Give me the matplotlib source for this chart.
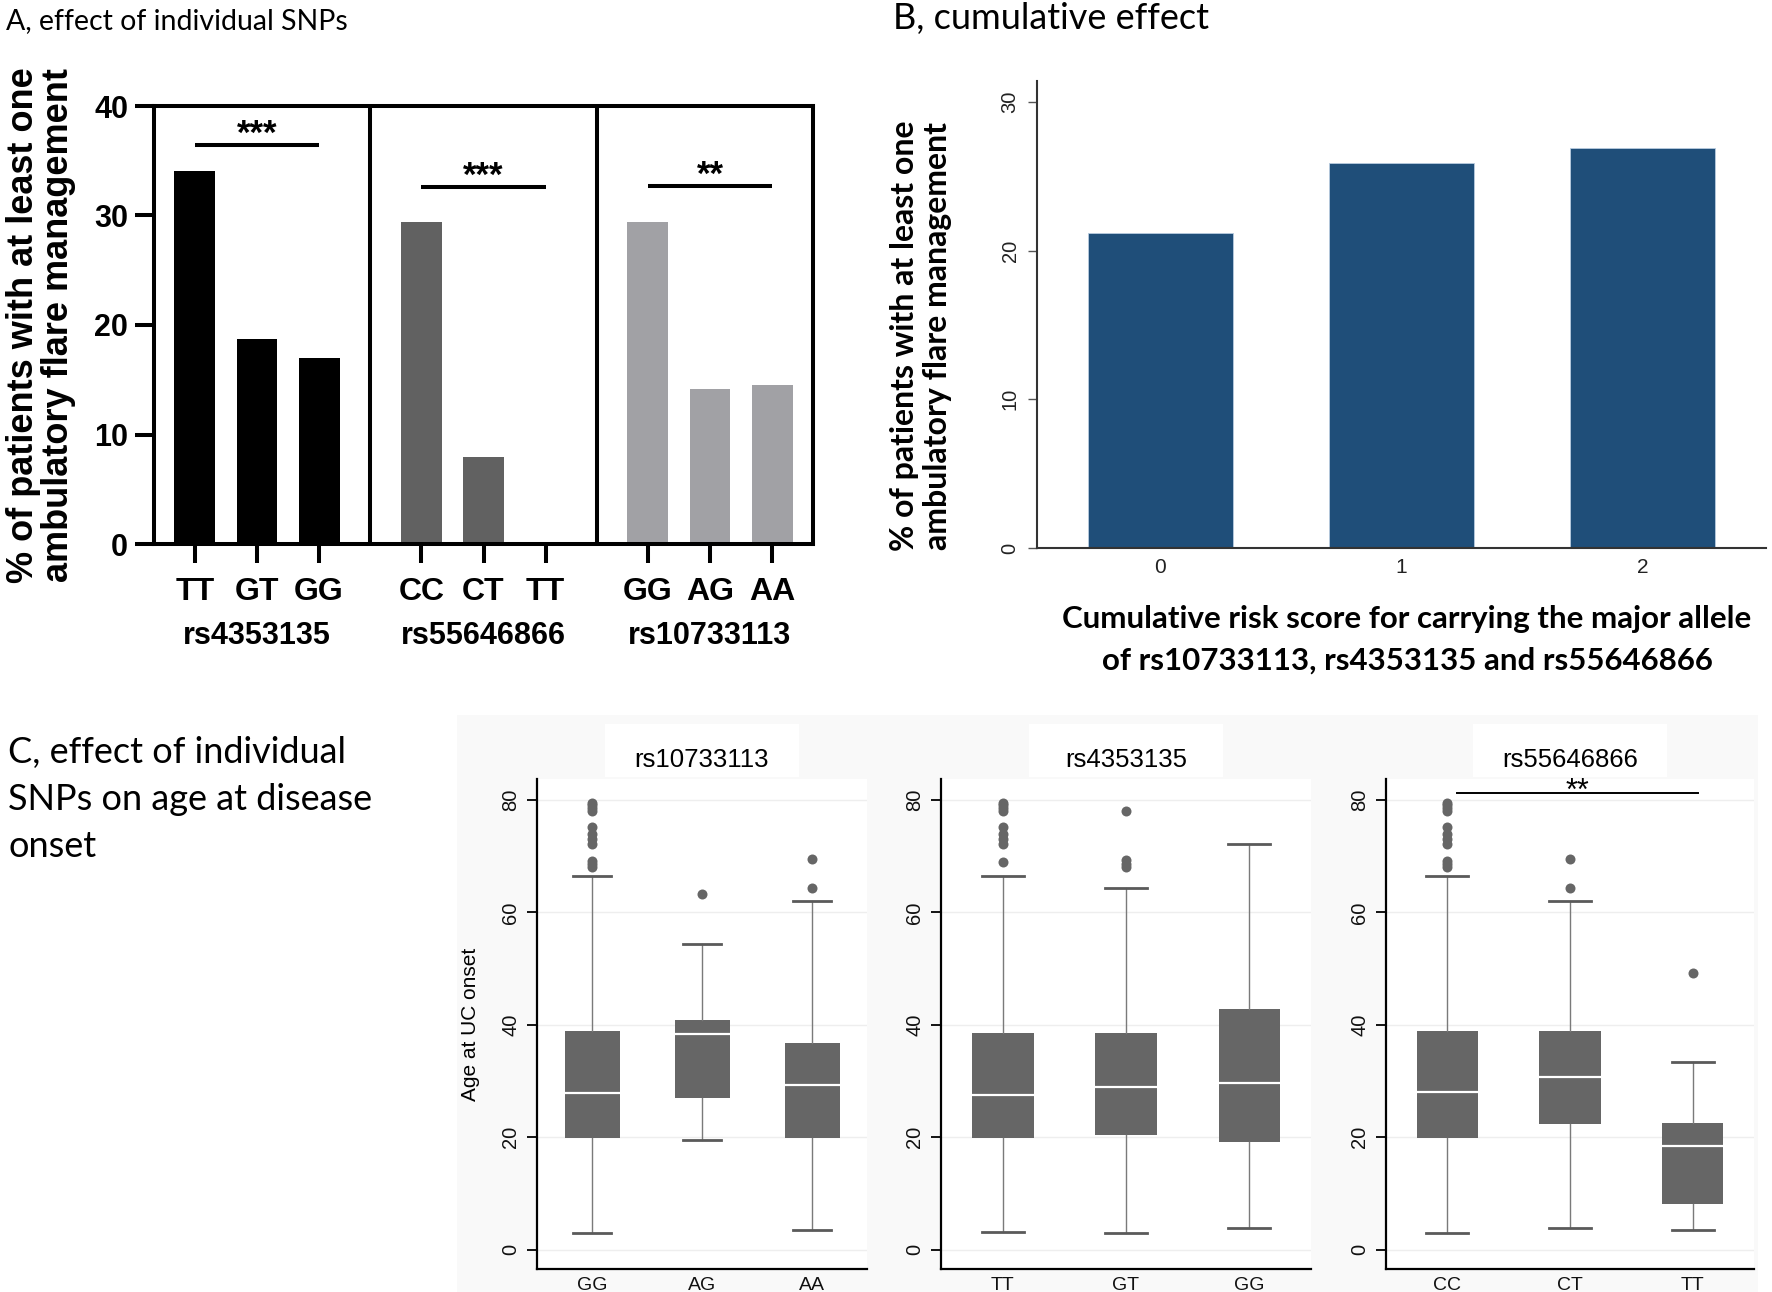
import matplotlib
matplotlib.use('Agg')
import matplotlib.pyplot as plt
from matplotlib.patches import Rectangle
from matplotlib.transforms import blended_transform_factory

plt.rcParams['font.family'] = ['Liberation Sans', 'DejaVu Sans']

W, H = 1772, 1292
DPI = 100

# ---------------- Data ----------------
# Panel A: % of patients with at least one ambulatory flare management
snp_groups_A = ['rs4353135', 'rs55646866', 'rs10733113']
genotypes_A = [['TT', 'GT', 'GG'], ['CC', 'CT', 'TT'], ['GG', 'AG', 'AA']]
pct_rs4353135 = [34.1, 18.7, 17.0]
pct_rs55646866 = [29.4, 7.9, 0.0]
pct_rs10733113 = [29.4, 14.2, 14.5]
sig_labels_A = ['***', '***', '**']
sig_heights_A = [36.4, 32.6, 32.7]
colors_A = ['#000000', '#616161', '#a1a1a5']

# Panel B: cumulative risk score
risk_scores = [0, 1, 2]
pct_B = [21.2, 25.9, 26.9]

# Panel C: age at UC onset (box summaries)
facets_C = ['rs10733113', 'rs4353135', 'rs55646866']
genotypes_C = [['GG', 'AG', 'AA'], ['TT', 'GT', 'GG'], ['CC', 'CT', 'TT']]
q1_C = [[19.8, 27.0, 19.8], [19.8, 20.4, 19.2], [19.8, 22.3, 8.2]]
med_C = [[27.8, 38.4, 29.3], [27.6, 28.9, 29.6], [28.1, 30.7, 18.5]]
q3_C = [[38.9, 40.9, 36.8], [38.6, 38.6, 42.8], [38.9, 38.9, 22.5]]
whislo_C = [[3.0, 19.6, 3.6], [3.2, 3.0, 3.9], [3.0, 3.9, 3.6]]
whishi_C = [[66.4, 54.4, 62.0], [66.4, 64.4, 72.2], [66.4, 62.0, 33.4]]
fliers_C = [
    [[68.0, 68.6, 69.2, 72.2, 73.0, 74.0, 75.1, 78.0, 78.5, 79.0, 79.5], [63.3], [64.4, 69.4]],
    [[69.0, 72.2, 73.0, 74.0, 75.1, 78.0, 78.5, 79.0, 79.5], [68.0, 68.6, 69.3, 78.0], []],
    [[68.0, 68.6, 69.2, 72.2, 73.0, 74.0, 75.1, 78.0, 78.5, 79.0, 79.5], [64.4, 69.4], [49.3]],
]
sig_C_label = '**'
sig_C_height = 81.2


# ---------------- helpers ----------------
def fx(px):
    return px / W


def fy(py):
    return 1 - py / H


def rect(l, r, t, b):
    return [fx(l), fy(b), (r - l) / W, (b - t) / H]


fig = plt.figure(figsize=(W / DPI, H / DPI), dpi=DPI)
fig.patch.set_facecolor('white')

CAL = ['Lato', 'DejaVu Sans']

# ---------------- Titles ----------------
fig.text(fx(6), fy(29), 'A, effect of individual SNPs', fontsize=20.5, family=CAL,
         ha='left', va='baseline')
fig.text(fx(893), fy(29), 'B, cumulative effect', fontsize=26, family=CAL,
         ha='left', va='baseline')
fig.text(fx(8), fy(763), 'C, effect of individual', fontsize=26, family=CAL,
         ha='left', va='baseline')
fig.text(fx(8), fy(810), 'SNPs on age at disease', fontsize=26, family=CAL,
         ha='left', va='baseline')
fig.text(fx(8), fy(857), 'onset', fontsize=26, family=CAL, ha='left', va='baseline')

# ---------------- Panel A ----------------
axA = fig.add_axes(rect(154, 813, 106, 544))
gap = 3.65
all_pct_A = [pct_rs4353135, pct_rs55646866, pct_rs10733113]
xs, hs, cs, labs = [], [], [], []
for g, vals in enumerate(all_pct_A):
    for i, v in enumerate(vals):
        xs.append(g * gap + i)
        hs.append(v)
        cs.append(colors_A[g])
        labs.append(genotypes_A[g][i])
axA.bar(xs, hs, width=0.66, color=cs, edgecolor='none')
axA.set_xlim(-0.66, 2 * gap + 2 + 0.66)
axA.set_ylim(0, 40)
for sp in axA.spines.values():
    sp.set_linewidth(2.9)
    sp.set_color('black')
for d in [(2 + gap) / 2, gap + (2 + gap) / 2]:
    axA.axvline(d, color='black', lw=2.9)
axA.set_xticks(xs)
axA.set_xticklabels(labs)
axA.set_yticks([0, 10, 20, 30, 40])
axA.tick_params(axis='x', direction='out', length=13.7, width=2.9, labelsize=23, pad=10)
axA.tick_params(axis='y', direction='out', length=13.7, width=2.9, labelsize=22, pad=5)
for lbl in axA.get_xticklabels() + axA.get_yticklabels():
    lbl.set_fontweight('bold')
trA = blended_transform_factory(axA.transData, fig.transFigure)
for g, name in enumerate(snp_groups_A):
    axA.text(g * gap + 1, fy(636), name, transform=trA, ha='center', va='center',
             fontsize=22, fontweight='bold')
    axA.plot([g * gap, g * gap + 2], [sig_heights_A[g]] * 2, color='black', lw=2.9,
             solid_capstyle='butt')
    axA.text(g * gap + 1, sig_heights_A[g] + 0.1, sig_labels_A[g], ha='center',
             va='baseline', fontsize=25, fontweight='bold')
fig.text(fx(41), fy(325), '% of patients with at least one\nambulatory flare management',
         rotation=90, ha='center', va='center', fontsize=26, fontweight='bold',
         linespacing=1.02)

# ---------------- Panel B ----------------
axB = fig.add_axes(rect(1037, 1766, 81, 548))
axB.bar(risk_scores, pct_B, width=0.6, color='#1f4e79', edgecolor='#b8cce0', linewidth=0.6)
axB.set_xlim(-0.51, 2.51)
axB.set_ylim(0, 31.4)
axB.spines['top'].set_visible(False)
axB.spines['right'].set_visible(False)
for s in ['left', 'bottom']:
    axB.spines[s].set_color('#333333')
    axB.spines[s].set_linewidth(1.5)
axB.set_xticks(risk_scores)
axB.set_xticklabels([str(r) for r in risk_scores])
axB.set_yticks([0, 10, 20, 30])
axB.tick_params(axis='x', length=0, pad=7, labelsize=15, labelcolor='#222222')
axB.tick_params(axis='y', length=6.5, width=1, color='#555555', pad=6, labelsize=14.5,
                labelcolor='#222222')
for lbl in axB.get_yticklabels():
    lbl.set_rotation(90)
    lbl.set_va('center')
fig.text(fx(921), fy(336), '% of patients with at least one\nambulatory flare management',
         rotation=90, ha='center', va='center', fontsize=23, fontweight='bold', family=CAL,
         linespacing=1.15)
fig.text(fx(1407), fy(640),
         'Cumulative risk score for carrying the major allele\nof rs10733113, rs4353135 and rs55646866',
         ha='center', va='center', fontsize=22.5, fontweight='bold', family=CAL, linespacing=1.6)

# ---------------- Panel C ----------------
fig.patches.append(Rectangle((fx(457), fy(1292)), (1758 - 457) / W, (1292 - 715) / H,
                             transform=fig.transFigure, facecolor='#f9f9f9',
                             edgecolor='none', zorder=-10))
c_rects = [(537, 867), (941, 1311), (1386, 1754)]
axesC = []
for k, (l, r) in enumerate(c_rects):
    ax = fig.add_axes(rect(l, r, 779, 1269))
    axesC.append(ax)
    ax.set_facecolor('white')
    stats = []
    for j in range(3):
        stats.append(dict(med=med_C[k][j], q1=q1_C[k][j], q3=q3_C[k][j],
                          whislo=whislo_C[k][j], whishi=whishi_C[k][j],
                          fliers=fliers_C[k][j], label=genotypes_C[k][j]))
    ax.bxp(stats, positions=[1, 2, 3], widths=0.5, patch_artist=True, capwidths=0.34,
           boxprops=dict(facecolor='#666666', edgecolor='none', linewidth=0),
           medianprops=dict(color='white', linewidth=1.6),
           whiskerprops=dict(color='#7a7a7a', linewidth=1.0),
           capprops=dict(color='#5a5a5a', linewidth=2.0),
           flierprops=dict(marker='o', markerfacecolor='#666666', markeredgecolor='none',
                           markersize=7.2))
    ax.set_xlim(0.5, 3.5)
    ax.set_ylim(-3.4, 83.7)
    ax.set_yticks([0, 20, 40, 60, 80])
    ax.yaxis.grid(True, color='#eeeeee', linewidth=1)
    ax.set_axisbelow(True)
    ax.spines['top'].set_visible(False)
    ax.spines['right'].set_visible(False)
    for s in ['left', 'bottom']:
        ax.spines[s].set_color('black')
        ax.spines[s].set_linewidth(1.6)
    ax.tick_params(axis='x', length=0, pad=6, labelsize=14, labelcolor='#111111')
    ax.tick_params(axis='y', length=7, width=1.3, pad=5, labelsize=14.5, labelcolor='#111111')
    for lbl in ax.get_yticklabels():
        lbl.set_rotation(90)
        lbl.set_va('center')
    cx = (l + r) / 2
    fig.patches.append(Rectangle((fx(cx - 97), fy(777)), 194 / W, (777 - 724) / H,
                                 transform=fig.transFigure, facecolor='white',
                                 edgecolor='none', zorder=-5))
    fig.text(fx(cx), fy(760), facets_C[k], ha='center', va='center', fontsize=18.5)

ax3 = axesC[2]
ax3.plot([1.08, 3.04], [sig_C_height] * 2, color='black', lw=1.4, clip_on=False)
ax3.text(2.06, sig_C_height - 1.3, sig_C_label, ha='center', va='baseline', fontsize=22,
         clip_on=False)
fig.text(fx(470), fy(1024), 'Age at UC onset', rotation=90, ha='center', va='center',
         fontsize=15)

fig.savefig('out.png', dpi=DPI)
